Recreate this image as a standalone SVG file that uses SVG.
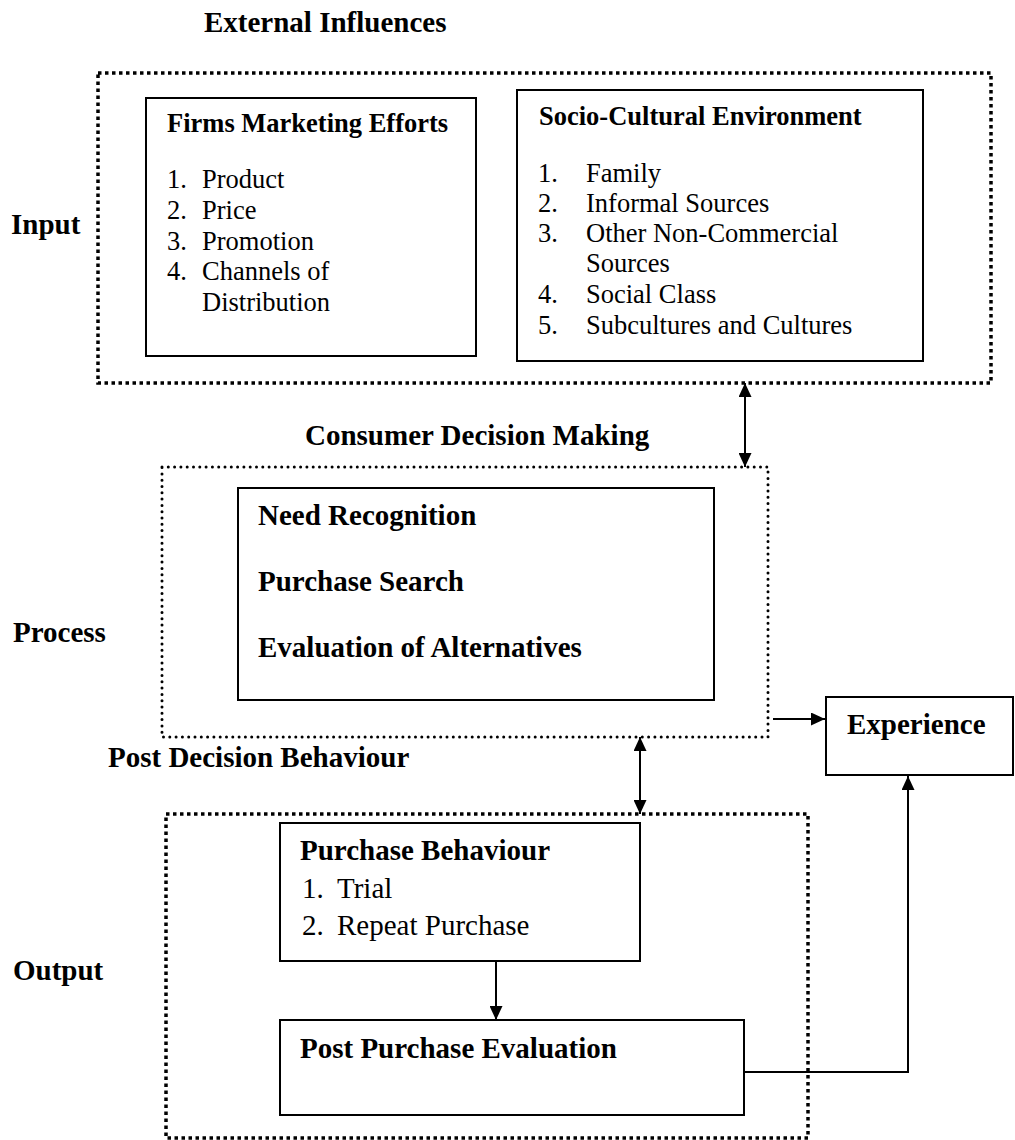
<svg xmlns="http://www.w3.org/2000/svg" width="1015" height="1140" viewBox="0 0 1015 1140">
  <style>
    text { font-family: "Liberation Serif", "Times New Roman", serif; fill: #000; }
    .hd { font-size: 29px; font-weight: bold; }
    .bt { font-size: 26.5px; font-weight: bold; }
    .it { font-size: 26.5px; }
    .it2 { font-size: 29px; }
    .box { fill: #fff; stroke: #000; stroke-width: 2; }
    .sq { fill: none; stroke: #000; stroke-width: 3.5; stroke-dasharray: 3.5 3.5; }
    .dot { fill: none; stroke: #000; stroke-width: 3; stroke-linecap: round; stroke-dasharray: 0 6.3; }
    .ln { fill: none; stroke: #000; stroke-width: 2; }
  </style>
  <defs>
    <marker id="ah" viewBox="0 0 14 13" refX="14" refY="6.5" markerWidth="14" markerHeight="13" markerUnits="userSpaceOnUse" orient="auto-start-reverse">
      <path d="M0,0 L14,6.5 L0,13 z" fill="#000"/>
    </marker>
  </defs>
  <rect width="1015" height="1140" fill="#fff"/>

  <!-- section labels -->
  <g id="labels">
    <text class="hd" x="204" y="32">External Influences</text>
    <text class="hd" x="11" y="234">Input</text>
    <text class="hd" x="305" y="445">Consumer Decision Making</text>
    <text class="hd" x="13" y="642">Process</text>
    <text class="hd" x="108" y="767">Post Decision Behaviour</text>
    <text class="hd" x="13" y="980">Output</text>
  </g>

  <!-- input stage -->
  <g id="input-stage">
    <rect class="sq" x="98" y="73" width="893" height="310"/>
  </g>
  <g id="firms-marketing">
    <rect class="box" x="146" y="98" width="330" height="258"/>
    <text class="bt" x="167" y="132">Firms Marketing Efforts</text>
    <text class="it" x="167" y="188">1.</text><text class="it" x="202" y="188">Product</text>
    <text class="it" x="167" y="219">2.</text><text class="it" x="202" y="219">Price</text>
    <text class="it" x="167" y="250">3.</text><text class="it" x="202" y="250">Promotion</text>
    <text class="it" x="167" y="280">4.</text><text class="it" x="202" y="280">Channels of</text>
    <text class="it" x="202" y="311">Distribution</text>
  </g>
  <g id="socio-cultural">
    <rect class="box" x="517" y="90" width="406" height="271"/>
    <text class="bt" x="539" y="125">Socio-Cultural Environment</text>
    <text class="it" x="538" y="182">1.</text><text class="it" x="586" y="182">Family</text>
    <text class="it" x="538" y="212">2.</text><text class="it" x="586" y="212">Informal Sources</text>
    <text class="it" x="538" y="242">3.</text><text class="it" x="586" y="242">Other Non-Commercial</text>
    <text class="it" x="586" y="272">Sources</text>
    <text class="it" x="538" y="303">4.</text><text class="it" x="586" y="303">Social Class</text>
    <text class="it" x="538" y="334">5.</text><text class="it" x="586" y="334">Subcultures and Cultures</text>
  </g>

  <!-- process stage -->
  <g id="process-stage">
    <rect class="dot" x="162" y="467" width="606" height="270"/>
  </g>
  <g id="decision-steps">
    <rect class="box" x="238" y="488" width="476" height="212"/>
    <text class="hd" x="258" y="525">Need Recognition</text>
    <text class="hd" x="258" y="591">Purchase Search</text>
    <text class="hd" x="258" y="657">Evaluation of Alternatives</text>
  </g>

  <!-- experience -->
  <g id="experience">
    <rect class="box" x="826" y="697" width="187" height="78"/>
    <text class="hd" x="847" y="734">Experience</text>
  </g>

  <!-- output stage -->
  <g id="output-stage">
    <rect class="sq" x="166" y="814" width="642" height="324"/>
  </g>
  <g id="purchase-behaviour">
    <rect class="box" x="280" y="823" width="360" height="138"/>
    <text class="hd" x="300" y="860">Purchase Behaviour</text>
    <text class="it2" x="302" y="898">1.</text><text class="it2" x="337" y="898">Trial</text>
    <text class="it2" x="302" y="935">2.</text><text class="it2" x="337" y="935">Repeat Purchase</text>
  </g>
  <g id="post-purchase">
    <rect class="box" x="280" y="1020" width="464" height="95"/>
    <text class="hd" x="300" y="1058">Post Purchase Evaluation</text>
  </g>

  <!-- connectors -->
  <g id="connectors">
    <line class="ln" x1="745" y1="383" x2="745" y2="467" marker-start="url(#ah)" marker-end="url(#ah)"/>
    <line class="ln" x1="640" y1="737" x2="640" y2="814" marker-start="url(#ah)" marker-end="url(#ah)"/>
    <line class="ln" x1="773" y1="719" x2="825" y2="719" marker-end="url(#ah)"/>
    <line class="ln" x1="496" y1="961" x2="496" y2="1020" marker-end="url(#ah)"/>
    <path class="ln" d="M744,1072 H908 V776" marker-end="url(#ah)"/>
  </g>
</svg>
